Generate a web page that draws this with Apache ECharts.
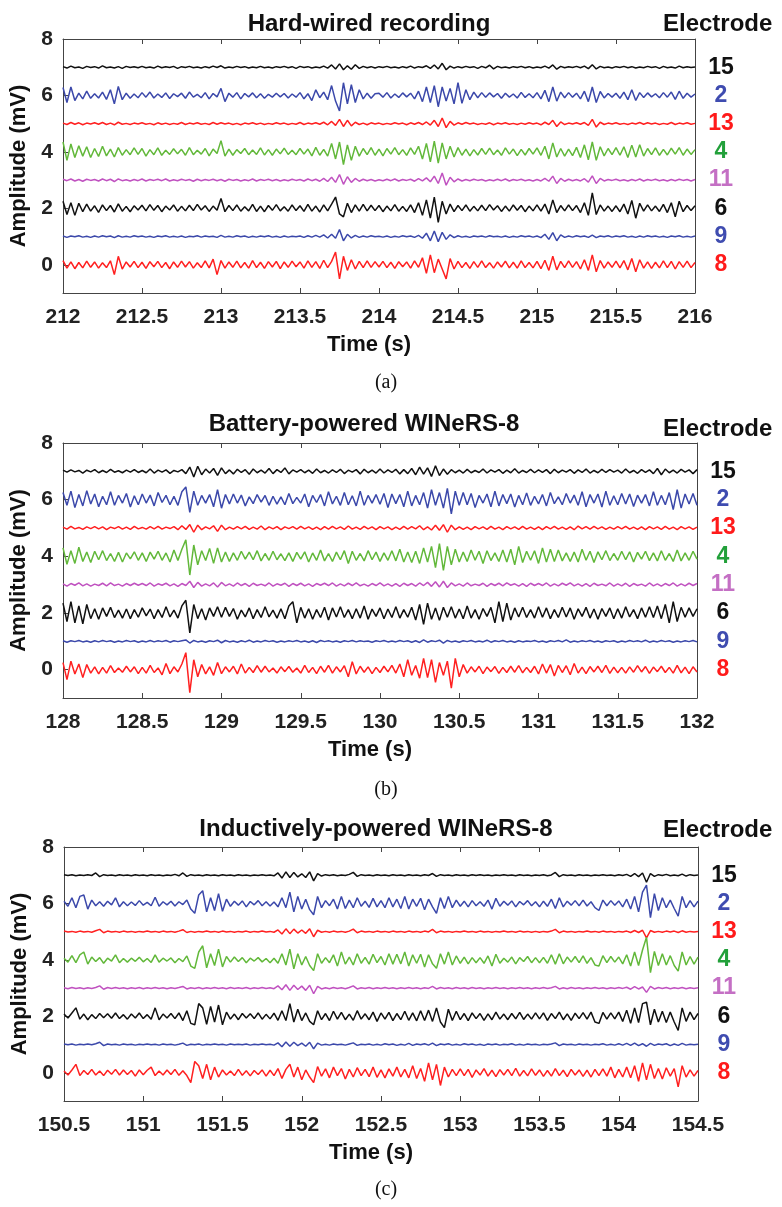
<!DOCTYPE html>
<html>
<head>
<meta charset="utf-8">
<script src="https://cdn.jsdelivr.net/npm/echarts@6/dist/echarts.min.js"></script>
<style>
  html, body { margin: 0; padding: 0; background: #fff; }
  #main { width: 782px; height: 1207px; }
</style>
</head>
<body>
<div id="main"></div>
<script>
// traces, in units of 0.01 mV, one sample every 25 ms (161 samples = 4 s)
// stacking order top -> bottom: electrode 15, 2, 13, 4, 11, 6, 9, 8
const ELECTRODES = ['15', '2', '13', '4', '11', '6', '9', '8'];
const OFFSETS = [7, 6, 5, 4, 3, 2, 1, 0];
const X_TICKS_A = [212, 216];
const X_TICKS_B = [128, 132];
const X_TICKS_C = [150.5, 154.5];

// (a) hard-wired recording
const a15 = [2,-3,4,-2,1,-4,3,-1,2,-3,5,-2,1,-3,2,-4,3,-1,2,-2,
  3,-2,1,-3,4,-2,2,-1,3,-4,2,-1,3,-2,1,-3,2,-2,4,-1,
  5,-3,1,-2,3,-1,2,-3,1,-2,3,-2,1,-3,2,-1,3,-2,2,-4,
  3,-1,2,-3,1,-2,4,-3,8,-6,12,-9,5,-7,9,-4,3,-2,2,-3,
  2,-1,3,-2,1,-3,2,-2,4,-3,2,-1,5,-4,8,-6,14,-9,4,-3,
  2,-2,3,-1,2,-4,3,-2,7,-6,3,-2,1,-3,2,-1,3,-2,2,-3,
  1,-2,4,-3,8,-7,3,-2,2,-1,3,-2,4,-5,9,-6,3,-2,1,-3,
  2,-1,3,-2,2,-3,1,-2,3,-1,2,-4,3,-2,1,-3,4,-2,2,-1,1];
const a2 = [28,-25,30,-18,8,-12,15,-10,6,-9,12,-14,20,-30,32,-15,8,-10,5,-8,
  10,-6,12,-9,5,-7,9,-11,6,-4,8,-10,12,-6,4,-8,10,-12,7,-5,
  25,-22,8,-6,10,-12,7,-5,9,-8,6,-10,4,-6,8,-5,7,-9,5,-6,
  10,-12,6,-18,20,-8,12,-15,35,-20,-55,45,-30,38,-25,20,-12,8,-10,6,
  8,-6,10,-9,5,-7,9,-5,8,-12,15,-22,30,-25,35,-40,30,-20,25,-30,
  45,-28,20,-15,12,-8,10,-6,9,-5,7,-10,8,-6,5,-9,11,-7,6,-8,
  10,-12,18,-22,30,-20,12,-8,10,-6,8,-12,15,-22,30,-25,14,-9,7,-6,
  8,-10,12,-15,20,-18,10,-7,9,-5,6,-8,10,-6,12,-14,15,-10,8,-6,5];
const a13 = [2,-3,4,-2,3,-4,2,-1,3,-2,4,-3,2,-4,5,-2,1,-3,2,-1,
  3,-2,1,-4,3,-2,2,-3,1,-2,4,-3,2,-1,3,-2,1,-3,4,-2,
  3,-1,2,-3,1,-4,2,-1,3,-2,2,-3,1,-2,3,-1,2,-3,1,-2,
  4,-3,2,-1,3,-2,5,-4,8,-6,15,-10,12,-8,5,-3,2,-4,3,-1,
  2,-3,1,-2,3,-1,2,-4,3,-2,4,-3,6,-5,12,-10,20,-14,8,-5,
  3,-2,4,-1,2,-3,1,-2,3,-4,2,-1,3,-2,1,-3,2,-2,3,-1,
  2,-4,5,-3,12,-10,6,-3,2,-1,3,-2,4,-6,15,-12,5,-3,2,-1,
  3,-2,1,-3,2,-1,4,-2,3,-1,2,-3,1,-2,4,-3,2,-1,3,-2,1];
const a4 = [35,-30,28,-20,22,-15,18,-20,12,-16,20,-14,10,-18,15,-12,8,-10,14,-9,
  12,-15,8,-10,14,-12,6,-9,11,-7,9,-12,15,-10,6,-8,12,-14,10,-6,
  40,-15,10,-12,8,-6,12,-10,7,-9,14,-11,8,-12,10,-7,13,-9,6,-10,
  12,-8,10,-14,16,-12,9,-15,30,-25,35,-45,25,-30,20,-15,12,-10,15,-12,
  10,-14,12,-8,15,-10,8,-12,14,-9,20,-25,30,-35,38,-40,32,-25,20,-18,
  15,-12,10,-14,8,-11,12,-9,13,-10,7,-12,14,-8,10,-13,9,-11,12,-8,
  14,-12,20,-25,32,-18,12,-15,10,-13,16,-20,25,-28,35,-30,18,-14,12,-10,
  15,-12,18,-20,24,-18,25,-15,12,-10,14,-12,9,-11,13,-8,15,-12,10,-9,8];
const a11 = [3,-2,4,-3,2,-4,3,-1,2,-3,4,-2,3,-5,4,-2,1,-3,2,-2,
  4,-3,2,-1,3,-2,4,-3,1,-2,3,-1,2,-4,3,-2,2,-1,3,-2,
  2,-4,3,-1,2,-3,1,-2,4,-3,2,-1,3,-2,2,-3,1,-2,3,-1,
  2,-3,4,-2,3,-4,6,-5,10,-8,20,-15,12,-8,6,-4,3,-2,2,-3,
  1,-2,3,-2,4,-3,2,-1,3,-4,5,-3,8,-6,14,-12,25,-18,10,-6,
  4,-3,2,-2,3,-1,2,-3,1,-2,3,-2,4,-3,2,-1,3,-2,1,-3,
  2,-3,6,-4,14,-12,6,-4,3,-2,2,-3,5,-7,15,-12,6,-3,2,-1,
  3,-2,1,-3,2,-2,4,-3,2,-1,3,-2,1,-3,2,-2,3,-1,2,-3,2];
const a6 = [25,-22,20,-25,18,-12,15,-10,9,-14,12,-8,10,-13,16,-10,7,-12,9,-6,
  11,-9,13,-7,10,-12,8,-6,12,-10,7,-9,11,-8,14,-6,9,-11,8,-7,
  35,-12,10,-8,12,-10,6,-9,14,-11,8,-12,10,-7,13,-9,6,-10,12,-8,
  9,-11,14,-10,8,-13,12,-9,15,40,-20,-30,18,-15,12,-10,14,-9,11,-8,
  10,-12,8,-9,13,-10,7,-11,12,-15,20,-25,30,-35,40,-50,25,-20,15,-12,
  10,-8,12,-10,7,-9,11,-8,13,-6,9,-11,8,-10,12,-7,10,-12,8,-9,
  12,-10,15,-20,30,-15,10,-9,12,-8,10,-15,20,-25,55,-22,12,-10,8,-11,
  9,-12,15,-20,28,-35,18,-10,12,-9,8,-11,14,-15,20,-30,25,-12,10,-8,9];
const a9 = [2,-3,2,-1,3,-2,1,-3,2,-2,3,-1,2,-4,3,-2,1,-2,3,-1,
  2,-2,1,-3,2,-1,3,-2,1,-2,2,-3,1,-1,3,-2,2,-1,1,-3,
  4,-2,1,-2,3,-1,2,-3,1,-2,2,-1,3,-2,1,-3,2,-2,1,-1,
  2,-3,3,-2,4,-2,6,-5,8,-6,25,-15,8,-5,4,-3,2,-2,3,-1,
  1,-2,2,-3,1,-2,3,-1,2,-3,4,-6,12,-15,20,-18,15,-10,6,-4,
  3,-2,1,-3,2,-1,2,-2,3,-1,1,-2,2,-3,1,-2,3,-1,2,-2,
  2,-4,8,-10,14,-15,6,-3,2,-2,3,-1,2,-3,5,-4,2,-1,3,-2,
  2,-1,3,-2,1,-3,2,-2,3,-1,2,-2,1,-3,2,-1,3,-2,1,-2,2];
const a8 = [15,-12,10,-14,8,-11,13,-9,10,-12,7,-10,14,-35,30,-15,10,-8,12,-10,
  9,-13,11,-7,12,-10,8,-14,10,-9,13,-8,11,-12,7,-10,14,-11,20,-35,
  15,-12,10,-9,13,-11,8,-12,15,-10,9,-13,11,-8,12,-14,10,-9,13,-7,
  10,-12,14,-9,11,-13,16,-10,12,45,-50,30,-20,18,-15,12,-10,14,-9,11,
  -8,12,-10,9,-13,11,-7,10,-12,14,-9,25,-30,35,-28,20,-15,-50,22,-15,
  12,-10,8,-13,11,-9,14,-10,7,-12,10,-8,13,-11,9,-12,14,-10,8,-11,
  12,-14,16,-20,30,-18,12,-10,14,-9,11,-15,18,-20,35,-25,15,-12,10,-9,
  13,-11,15,-18,22,-25,18,-12,10,-13,9,-11,14,-10,12,-15,11,-9,13,-10,8];

// (b) battery-powered WINeRS-8
const b15 = [4,-3,5,-2,3,-6,4,-2,6,-5,3,-4,7,-3,2,-5,4,-3,6,-4,
  3,-5,8,-6,4,-3,5,-7,3,-2,6,-8,15,-20,18,-12,8,-6,10,-14,
  12,-8,5,-9,7,-4,6,-10,8,-5,4,-6,10,-8,6,-4,12,-9,5,-3,
  6,-5,4,-7,8,-5,3,-6,5,-4,7,-8,4,-3,6,-9,7,-5,4,-6,
  8,-6,5,-4,7,-9,6,-8,10,-12,15,-10,12,-18,20,-15,8,-10,6,-5,
  4,-6,7,-5,3,-4,8,-6,5,-3,6,-7,4,-5,9,-6,3,-4,7,-5,
  5,-4,6,-8,7,-5,4,-3,6,-7,5,-4,8,-6,3,-5,7,-4,6,-3,
  4,-6,8,-5,3,-7,6,-4,5,-8,10,-12,8,-5,4,-6,7,-3,5,-8,6];
const b2 = [25,-20,30,-28,18,-22,32,-15,20,-25,12,-18,28,-20,15,-12,22,-26,14,-18,
  20,-12,16,-22,25,-10,15,-18,12,-20,28,45,-45,30,-20,15,-12,18,-25,35,
  -30,18,-15,20,-12,16,-22,10,-14,18,-9,15,-20,12,-16,10,-18,22,-14,8,
  -12,20,-25,15,-10,18,-22,28,-15,12,-20,25,-18,14,-22,30,-20,15,-12,18,
  -16,22,-28,20,-14,18,-25,30,-22,15,-18,25,-30,35,-20,25,-30,40,-50,30,
  -20,25,-18,22,-28,15,-12,20,-25,30,-22,18,-14,20,-26,15,-18,24,-20,12,
  -15,18,-22,25,-14,10,-18,22,-12,16,-20,28,-25,18,-12,20,-26,30,-20,14,
  -18,22,-15,20,-24,16,-12,18,-22,28,-20,15,-18,25,-35,35,-30,20,-15,22,-20];
const b13 = [3,-4,6,-3,2,-5,4,-2,5,-3,4,-6,3,-2,5,-4,3,-5,6,-3,
  2,-4,5,-3,6,-4,3,-2,5,-6,8,-5,12,-15,10,-6,4,-3,8,-12,
  10,-6,3,-4,5,-3,6,-5,3,-4,7,-6,4,-3,5,-6,4,-2,5,-4,
  6,-3,4,-5,3,-6,5,-4,6,-3,4,-5,7,-4,3,-5,6,-3,4,-6,
  5,-3,4,-6,3,-5,6,-4,5,-3,8,-6,4,-7,10,-8,12,-15,10,-6,
  4,-5,3,-6,5,-3,4,-5,6,-4,3,-6,5,-3,4,-5,6,-4,3,-5,
  4,-6,5,-3,6,-4,3,-5,4,-6,7,-3,5,-4,6,-3,4,-5,3,-4,
  5,-3,6,-4,3,-5,4,-6,5,-3,4,-5,6,-4,3,-6,5,-3,4,-5,3];
const b4 = [30,-28,20,-25,32,-18,15,-22,18,-12,20,-15,10,-18,14,-20,12,-9,16,-14,
  12,-18,15,-10,18,-14,12,-20,22,-15,25,58,-66,40,-30,20,-15,28,-25,30,
  -20,15,-18,12,-14,18,-10,15,-12,20,-16,10,-14,18,-12,9,-15,12,-18,14,
  -10,16,-20,12,-14,22,-16,10,-18,15,-12,20,-25,18,-14,10,-16,20,-12,15,
  -18,12,-14,20,-16,25,-20,15,-22,18,-25,30,-20,35,-40,45,-50,35,-30,25,
  -20,15,-18,22,-14,18,-25,20,-15,12,-18,22,-20,25,-30,35,-22,18,-14,20,
  -25,30,-20,25,-18,22,-16,12,-18,15,-20,25,-14,18,-22,16,-12,20,-15,10,
  -14,18,-12,16,-20,14,-10,18,-15,12,-16,20,-14,10,-18,22,-16,12,-14,18,-10];
const b11 = [3,-5,4,-2,6,-4,3,-5,2,-3,5,-4,6,-3,2,-5,4,-3,5,-2,
  4,-3,6,-5,3,-2,5,-4,3,-6,4,-3,12,-10,8,-5,3,-4,6,-8,
  8,-4,3,-5,6,-3,4,-6,5,-3,2,-4,6,-5,3,-2,5,-6,4,-3,
  5,-4,3,-6,4,-2,5,-3,6,-5,3,-4,5,-3,6,-4,2,-5,4,-3,
  6,-4,3,-5,4,-6,5,-3,4,-5,6,-3,8,-6,10,-8,12,-10,6,-4,
  3,-5,6,-4,2,-3,5,-6,4,-3,5,-4,6,-2,3,-5,4,-6,5,-3,
  4,-3,6,-5,3,-4,5,-2,6,-4,3,-5,4,-6,5,-3,2,-4,6,-5,
  3,-4,5,-6,4,-3,2,-5,6,-4,3,-5,4,-3,6,-5,3,-4,5,-3,4];
const b6 = [35,-30,40,-35,25,-38,30,-20,15,-22,18,-12,20,-16,10,-18,14,-20,12,-15,
  18,-10,14,-20,12,-16,22,-14,10,-18,25,45,-70,30,-20,15,-25,18,-12,22,
  -15,20,-12,16,-22,10,-14,18,-20,12,-16,22,-14,10,-18,15,-20,25,40,-35,
  20,-18,15,-22,12,-16,20,-25,18,-14,22,-16,12,-20,15,-18,25,-22,14,-12,
  18,-20,14,-16,22,-18,12,-15,20,-25,30,-40,35,-22,18,-26,20,-15,22,-18,
  14,-20,25,-18,12,-22,16,-12,20,-35,40,-30,35,-25,18,-14,20,-16,12,-18,
  22,-15,18,-20,12,-16,20,-14,18,-22,15,-12,20,-18,14,-22,16,-12,18,-20,
  15,-18,22,-14,12,-20,18,-15,22,-16,25,-20,30,-35,40,-30,20,-15,18,-12,15];
const b9 = [2,-3,2,-1,3,-2,1,-3,2,-2,3,-1,2,-3,1,-2,3,-1,2,-3,
  1,-2,3,-2,2,-1,3,-3,2,-1,2,5,-6,3,-2,1,-3,2,-1,4,
  -5,3,-2,1,-3,2,-2,4,-3,1,-2,3,-1,2,-3,1,-2,2,-1,3,
  -2,1,-3,2,-4,3,-1,2,-2,1,-3,2,-1,3,-2,2,-1,1,-3,2,
  -1,3,-2,1,-2,3,-1,2,-3,2,-4,5,-3,2,-1,4,-6,3,-2,1,
  -3,2,-1,3,-2,1,-2,4,-3,2,-1,3,-2,1,-3,2,-2,1,-1,3,
  -2,1,-3,2,-1,3,-2,5,-3,1,-2,2,-1,3,-2,1,-3,2,-1,2,
  -3,1,-2,3,-1,2,-2,4,-3,1,-2,3,-1,2,-3,1,-2,2,-1,3,-2];
const b8 = [25,-35,30,-15,20,-28,18,-12,10,-15,8,-12,14,-10,6,-9,12,-8,10,-14,
  8,-12,15,-10,6,-18,22,-14,10,-8,20,60,-81,35,-25,18,-15,10,-20,25,
  -14,10,-8,12,-15,20,-12,8,-10,14,-9,12,-8,6,-12,10,-7,11,-9,6,
  -12,15,-10,8,-14,12,-9,15,-12,10,-8,14,-25,28,-15,12,-9,10,-14,8,
  -10,12,-8,15,-12,20,-25,35,-20,15,-30,40,-28,35,-45,25,-20,30,-65,40,
  -25,18,-12,10,-8,12,-14,9,-7,11,-13,8,-10,12,-9,14,-11,8,-10,12,
  -15,20,-12,18,-22,15,-10,14,-18,22,-12,9,-14,11,-8,12,-10,15,-13,9,
  -11,8,-12,10,-9,14,-8,11,-13,9,-7,12,-10,8,-12,15,-11,9,-14,10,-8];

// (c) inductively-powered WINeRS-8
const c15 = [2,-1,2,-2,1,-1,2,-1,8,-5,2,-1,1,-2,2,-1,1,-2,2,-1,
  1,-2,2,-1,1,-2,1,-1,3,-2,8,-4,2,-1,1,-2,2,-1,1,-2,
  2,-1,1,-2,2,-1,1,-2,1,-1,2,-1,1,-2,8,-10,12,-8,10,-6,
  5,-8,12,-20,6,-3,2,-1,2,-2,1,-1,3,10,-4,2,-1,1,-2,2,
  -1,1,-2,2,-1,1,-2,2,-1,1,-2,2,-1,6,-4,2,-1,1,-2,2,
  -1,1,-2,2,-1,2,-1,1,-2,1,-1,2,-1,1,-2,2,-1,1,-2,1,
  -1,2,-2,1,10,-5,2,-1,1,-2,2,-1,1,-2,1,-1,2,-1,1,-2,
  2,-1,3,-4,6,-5,8,-25,6,-4,2,-1,3,-2,1,-2,4,-3,2,-1,1];
const c2 = [8,-10,20,-15,25,30,-20,12,-8,6,-10,8,-5,20,-12,6,-8,5,-7,10,
  -6,4,-8,22,-10,6,-5,8,-9,6,-4,12,-20,-35,30,45,-30,20,-25,35,
  -28,15,-10,8,-6,9,-12,7,-5,10,-8,6,-9,5,-12,20,-15,40,-30,25,
  -20,15,-22,-40,25,-15,10,-8,15,-20,25,-18,12,-15,20,-10,8,-14,18,-12,
  10,-15,20,-12,15,-18,25,-20,15,-10,18,-22,15,-12,-35,20,-18,25,-15,12,
  -10,8,-12,10,-8,6,-10,12,-20,18,-10,8,-6,9,-12,7,-5,10,-8,6,
  -12,8,-10,15,-18,20,-12,8,-6,10,-8,12,-9,6,-15,-25,12,-8,10,-6,
  9,-12,15,-20,25,-30,40,65,-50,35,-25,20,-15,12,-18,-45,25,-15,10,-12,8];
const c13 = [2,-1,1,-2,2,-1,1,-2,3,8,-4,2,-1,1,-2,2,-1,1,-2,1,
  -1,2,-1,1,-2,2,-1,1,-2,2,7,-3,1,-2,1,-1,2,-1,1,-2,
  2,-1,1,-2,1,-1,2,-2,1,-1,2,-1,1,-2,6,-8,10,-7,9,-5,
  6,-6,10,-18,5,-2,1,-2,2,-1,1,-2,2,9,-4,2,-1,1,-2,2,
  -1,1,-2,2,-1,1,-2,2,-1,1,-2,2,-1,8,-4,2,-1,1,-2,1,
  -1,2,-1,1,-2,2,-1,1,-2,1,-1,2,-1,1,-2,2,-1,1,-2,1,
  -2,1,-1,2,8,-4,2,-1,1,-2,1,-1,2,-1,1,-2,2,-1,1,-2,
  1,-1,2,-3,4,-3,5,-22,4,-2,1,-2,2,-1,2,-3,3,-2,1,-1,1];
const c4 = [6,-8,15,-10,18,28,-15,10,-6,8,-12,6,-4,18,-10,5,-8,6,-5,9,
  -7,5,-9,18,-8,6,-4,7,-10,5,-6,14,-22,-30,28,50,-28,22,-20,38,
  -25,12,-8,10,-6,8,-10,6,-4,8,-7,5,-10,6,-12,22,-18,38,-32,22,
  -18,12,-20,-38,22,-12,8,-10,18,-22,28,-15,10,-18,22,-12,9,-15,20,-10,
  12,-18,22,-15,20,-14,28,-22,18,-12,20,-25,18,-14,-30,22,-15,28,-18,14,
  -12,10,-14,8,-10,8,-12,14,-22,20,-12,6,-8,10,-14,8,-6,12,-10,8,
  -10,9,-12,18,-15,22,-14,10,-8,12,-10,14,-12,8,-18,-22,15,-10,12,-8,
  10,-14,18,-22,28,-20,35,80,-45,30,-20,22,-18,15,-20,-40,28,-18,12,-15,10];
const c11 = [1,-2,2,-1,1,-2,1,-1,2,8,-4,2,-1,2,-1,1,-2,1,-1,2,
  -2,1,-1,2,-1,1,-2,1,-1,2,6,-3,1,-1,2,-2,1,-1,2,-1,
  1,-2,2,-1,1,-1,2,-2,1,-1,2,-1,1,-2,8,-6,12,-8,10,-5,
  7,-8,10,-20,6,-3,1,-2,2,-1,1,-2,2,8,-3,1,-1,2,-2,1,
  -1,2,-1,1,-2,1,-1,2,-1,1,-2,1,-1,6,-3,2,-1,1,-2,2,
  -1,1,-2,2,-1,1,-2,1,-1,2,-1,1,-2,1,-1,2,-1,1,-2,1,
  -1,2,-1,1,6,-3,1,-2,2,-1,1,-2,1,-1,2,-1,1,-2,1,-1,
  2,-1,3,-4,5,-3,4,-15,6,-3,2,-1,2,-2,1,-1,2,-2,1,-1,1];
const c6 = [8,-6,12,30,-10,8,-12,6,-8,10,-5,9,-7,12,-8,6,-10,8,-6,12,
  -8,6,-10,30,-12,8,-6,10,-8,12,-15,20,-25,-30,45,30,-28,35,-20,40,
  -30,15,-10,8,-12,10,-6,9,-8,12,-10,7,-9,11,-14,20,-15,45,-20,25,
  -15,12,-18,-30,20,-12,10,-15,18,-10,14,-12,8,-14,20,-10,9,-12,15,-18,
  12,-10,14,-15,10,-12,18,-14,12,-16,20,-15,22,-18,30,-20,-40,25,-15,18,
  -12,10,-15,12,-8,10,-14,9,-12,15,-10,8,-12,10,-9,14,-11,8,-10,12,
  -9,12,-14,10,-8,15,-12,9,-14,11,-8,13,-10,15,-20,-25,14,-10,12,-9,
  15,-18,22,-25,30,-22,45,50,-30,25,-20,18,-22,15,-20,-50,30,-18,15,-12,10];
const c9 = [2,-1,2,-2,1,-1,2,-1,3,8,-4,2,-1,1,-2,2,-1,1,-2,1,
  -1,2,-1,1,-2,2,-1,1,-2,1,5,-3,1,-1,2,-2,1,-1,2,-1,
  1,-2,2,-1,1,-1,2,-2,1,-1,2,-1,1,-2,6,-8,9,-6,8,-4,
  5,-6,8,-15,5,-2,1,-2,2,-1,1,-2,2,6,-3,1,-1,2,-2,1,
  -2,3,-1,2,-3,1,-2,4,-3,2,-1,3,-2,5,-4,2,-1,3,-2,1,
  -2,3,-1,2,-2,1,-3,2,-1,2,-2,1,-1,3,-2,1,-2,2,-1,1,
  -2,1,-1,2,6,-4,2,-1,1,-2,2,-1,1,-2,1,-1,3,-2,1,-2,
  3,-2,4,-3,5,-4,3,-6,4,-3,2,-1,3,-4,2,-3,4,-2,1,-1,1];
const c8 = [6,-8,10,30,-10,8,-6,12,-8,6,-10,9,-5,12,-8,10,-6,8,-12,10,
  -7,9,20,-10,6,-8,10,-6,12,-9,7,-10,-35,40,25,-20,30,-25,20,-15,
  10,-8,6,-10,12,-9,7,-11,8,-6,10,-12,9,-10,15,-20,12,30,-15,20,
  -25,10,-15,-35,22,-12,14,-18,20,-10,15,-22,12,-15,18,-10,12,-14,20,-16,
  10,-18,14,-12,20,-15,12,-18,25,-20,15,-30,35,-25,30,-45,20,-15,12,-10,
  14,-10,12,-16,10,-8,15,-12,9,-14,11,-8,12,-10,16,-12,8,-11,14,-9,
  10,-13,8,-12,15,-10,9,-14,12,-8,10,-13,9,-15,12,-10,14,-12,20,-18,
  12,-15,20,-18,25,-30,35,-25,30,-20,15,-22,18,-12,15,-50,25,-15,10,-12,8];

const PANEL_A = [a15, a2, a13, a4, a11, a6, a9, a8];
const PANEL_B = [b15, b2, b13, b4, b11, b6, b9, b8];
const PANEL_C = [c15, c2, c13, c4, c11, c6, c9, c8];

const T_STEP = 0.025;
const FONT = '"Liberation Sans", Arial, sans-serif';
const TRACE_COLORS = ['#111111', '#3b48aa', '#ff2020', '#62b83a', '#c052c0', '#111111', '#3b48aa', '#ff2020'];
const LABEL_COLORS = ['#111111', '#3f4cb0', '#ff1a1a', '#22a03a', '#c46fc4', '#111111', '#3f4cb0', '#ff1a1a'];

window.onload = function () {
    let chart = echarts.init(document.getElementById('main'));

    let grids = [
        { left: 63, top: 39, width: 632, height: 254 },
        { left: 63, top: 443, width: 634, height: 255 },
        { left: 64, top: 847, width: 634, height: 254 }
    ];
    let ranges = [X_TICKS_A, X_TICKS_B, X_TICKS_C];
    let panels = [PANEL_A, PANEL_B, PANEL_C];

    // electrode names on the right, keyed by trace offset
    let rich = {};
    OFFSETS.forEach((off, k) => {
        rich['e' + off] = { fontSize: 23, fontWeight: 'bold', fontFamily: FONT, color: LABEL_COLORS[k] };
    });

    let frame = { show: true, onZero: false, lineStyle: { color: '#444', width: 1 } };
    let xAxis = [], yAxis = [], series = [];
    grids.forEach((g, gi) => {
        let [t0, t1] = ranges[gi];
        xAxis.push({
            type: 'value', gridIndex: gi, min: t0, max: t1, interval: 0.5, position: 'bottom',
            axisLine: frame,
            axisTick: { inside: true, length: 5, lineStyle: { color: '#444' } },
            axisLabel: { fontSize: 21, fontWeight: 'bold', fontFamily: FONT, color: '#222', margin: 14 },
            splitLine: { show: false },
            name: 'Time (s)', nameLocation: 'middle', nameGap: 41,
            nameTextStyle: { fontSize: 22, fontWeight: 'bold', fontFamily: FONT, color: '#111', padding: [0, 20, 0, 0] }
        });
        xAxis.push({
            type: 'value', gridIndex: gi, min: t0, max: t1, interval: 0.5, position: 'top',
            axisLine: frame,
            axisTick: { inside: true, length: 5, lineStyle: { color: '#444' } },
            axisLabel: { show: false },
            splitLine: { show: false }
        });
        yAxis.push({
            type: 'value', gridIndex: gi, min: -1, max: 8, position: 'left',
            axisLine: frame,
            axisTick: { inside: true, length: 5, customValues: [0, 2, 4, 6, 8], lineStyle: { color: '#444' } },
            axisLabel: { customValues: [0, 2, 4, 6, 8], fontSize: 21, fontWeight: 'bold', fontFamily: FONT, color: '#222', margin: 10 },
            splitLine: { show: false },
            name: 'Amplitude (mV)', nameLocation: 'middle', nameGap: 27,
            nameTextStyle: { fontSize: 22, fontWeight: 'bold', fontFamily: FONT, color: '#111' }
        });
        yAxis.push({
            type: 'value', gridIndex: gi, min: -1, max: 8, position: 'right',
            axisLine: frame,
            axisTick: { show: false },
            axisLabel: {
                customValues: OFFSETS,
                margin: 26, align: 'center',
                formatter: v => `{e${v}|${ELECTRODES[OFFSETS.indexOf(v)]}}`,
                rich: rich
            },
            splitLine: { show: false }
        });
        panels[gi].forEach((trace, k) => {
            series.push({
                type: 'line',
                xAxisIndex: gi * 2,
                yAxisIndex: gi * 2,
                data: trace.map((v, i) => [t0 + i * T_STEP, OFFSETS[k] + v * 0.01]),
                showSymbol: false,
                silent: true,
                lineStyle: { width: 1.5, color: TRACE_COLORS[k] }
            });
        });
    });

    let titleFont = 'bold 24px ' + FONT;
    let capFont = '20px "Liberation Serif", "Times New Roman", serif';
    let graphic = [
        { type: 'text', x: 369, y: 24, style: { text: 'Hard-wired recording', font: titleFont, fill: '#111', textAlign: 'center', textVerticalAlign: 'middle' } },
        { type: 'text', x: 364, y: 424, style: { text: 'Battery-powered WINeRS-8', font: titleFont, fill: '#111', textAlign: 'center', textVerticalAlign: 'middle' } },
        { type: 'text', x: 376, y: 829, style: { text: 'Inductively-powered WINeRS-8', font: titleFont, fill: '#111', textAlign: 'center', textVerticalAlign: 'middle' } },
        { type: 'text', x: 663, y: 24, style: { text: 'Electrode', font: titleFont, fill: '#111', textAlign: 'left', textVerticalAlign: 'middle' } },
        { type: 'text', x: 663, y: 429, style: { text: 'Electrode', font: titleFont, fill: '#111', textAlign: 'left', textVerticalAlign: 'middle' } },
        { type: 'text', x: 663, y: 830, style: { text: 'Electrode', font: titleFont, fill: '#111', textAlign: 'left', textVerticalAlign: 'middle' } },
        { type: 'text', x: 386, y: 383, style: { text: '(a)', font: capFont, fill: '#111', textAlign: 'center', textVerticalAlign: 'middle' } },
        { type: 'text', x: 386, y: 790, style: { text: '(b)', font: capFont, fill: '#111', textAlign: 'center', textVerticalAlign: 'middle' } },
        { type: 'text', x: 386, y: 1190, style: { text: '(c)', font: capFont, fill: '#111', textAlign: 'center', textVerticalAlign: 'middle' } }
    ];

    let option = {
        animation: false,
        backgroundColor: '#fff',
        grid: grids,
        xAxis: xAxis,
        yAxis: yAxis,
        series: series,
        graphic: graphic
    };
    chart.setOption(option);
};
</script>
</body>
</html>
